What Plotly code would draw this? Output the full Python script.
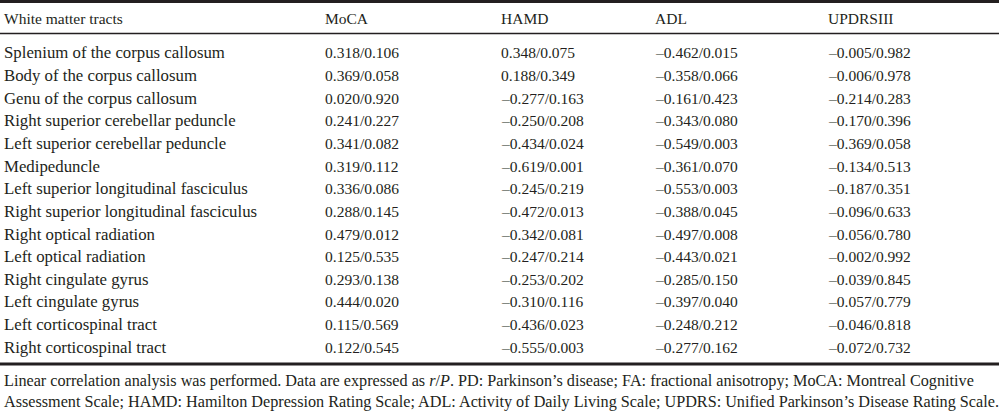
import plotly.graph_objects as go

headers = ["White matter tracts", "MoCA", "HAMD", "ADL", "UPDRSIII"]
tracts = [
    "Splenium of the corpus callosum",
    "Body of the corpus callosum",
    "Genu of the corpus callosum",
    "Right superior cerebellar peduncle",
    "Left superior cerebellar peduncle",
    "Medipeduncle",
    "Left superior longitudinal fasciculus",
    "Right superior longitudinal fasciculus",
    "Right optical radiation",
    "Left optical radiation",
    "Right cingulate gyrus",
    "Left cingulate gyrus",
    "Left corticospinal tract",
    "Right corticospinal tract",
]
moca = ["0.318/0.106", "0.369/0.058", "0.020/0.920", "0.241/0.227", "0.341/0.082",
        "0.319/0.112", "0.336/0.086", "0.288/0.145", "0.479/0.012", "0.125/0.535",
        "0.293/0.138", "0.444/0.020", "0.115/0.569", "0.122/0.545"]
hamd = ["0.348/0.075", "0.188/0.349", "–0.277/0.163", "–0.250/0.208", "–0.434/0.024",
        "–0.619/0.001", "–0.245/0.219", "–0.472/0.013", "–0.342/0.081", "–0.247/0.214",
        "–0.253/0.202", "–0.310/0.116", "–0.436/0.023", "–0.555/0.003"]
adl = ["–0.462/0.015", "–0.358/0.066", "–0.161/0.423", "–0.343/0.080", "–0.549/0.003",
       "–0.361/0.070", "–0.553/0.003", "–0.388/0.045", "–0.497/0.008", "–0.443/0.021",
       "–0.285/0.150", "–0.397/0.040", "–0.248/0.212", "–0.277/0.162"]
updrs = ["–0.005/0.982", "–0.006/0.978", "–0.214/0.283", "–0.170/0.396", "–0.369/0.058",
         "–0.134/0.513", "–0.187/0.351", "–0.096/0.633", "–0.056/0.780", "–0.002/0.992",
         "–0.039/0.845", "–0.057/0.779", "–0.046/0.818", "–0.072/0.732"]
footnote = [
    "Linear correlation analysis was performed. Data are expressed as <i>r</i>/<i>P</i>. PD: Parkinson’s disease; FA: fractional anisotropy; MoCA: Montreal Cognitive",
    "Assessment Scale; HAMD: Hamilton Depression Rating Scale; ADL: Activity of Daily Living Scale; UPDRS: Unified Parkinson’s Disease Rating Scale.",
]

W, H = 999, 413
FONT = "Liberation Serif"
TXT = "#231f20"
col_x = [1.5, 323, 499, 653, 826]
header_y = 18
row_y0, row_dy = 52.8, 22.65
fsize = 15.5
name_size = 16.8
foot_size = 16.2

columns = [tracts, moca, hamd, adl, updrs]
ann = []
for x, h in zip(col_x, headers):
    ann.append(dict(x=x, y=header_y, text=h, size=fsize))
for ci, col in enumerate(columns):
    for ri, v in enumerate(col):
        ann.append(dict(x=col_x[ci], y=row_y0 + ri * row_dy, text=v,
                        size=name_size if ci == 0 else fsize))
foot_y = [381, 402]
for fy, t in zip(foot_y, footnote):
    ann.append(dict(x=1.5, y=fy, text=t, size=foot_size))

annotations = []
for a in ann:
    sz = a.pop("size")
    annotations.append(dict(**a, xref="x", yref="y", xanchor="left", yanchor="middle",
                            showarrow=False, font=dict(family=FONT, size=sz, color=TXT)))

shapes = [
    dict(type="line", x0=0, x1=W, y0=1.5, y1=1.5, line=dict(color=TXT, width=3)),
    dict(type="line", x0=0, x1=W, y0=33.5, y1=33.5, line=dict(color=TXT, width=1.5)),
    dict(type="line", x0=0, x1=W, y0=364, y1=364, line=dict(color=TXT, width=3)),
]
for s in shapes:
    s.update(xref="x", yref="y")

fig = go.Figure()
fig.update_layout(
    width=W, height=H, margin=dict(l=0, r=0, t=0, b=0),
    paper_bgcolor="white", plot_bgcolor="white",
    xaxis=dict(range=[0, W], visible=False, fixedrange=True),
    yaxis=dict(range=[H, 0], visible=False, fixedrange=True),
    annotations=annotations, shapes=shapes, showlegend=False,
)
fig.write_html(
    "out.html",
    config={"displayModeBar": False},
    post_script="document.body.style.margin='0';document.body.style.overflow='hidden';",
)
